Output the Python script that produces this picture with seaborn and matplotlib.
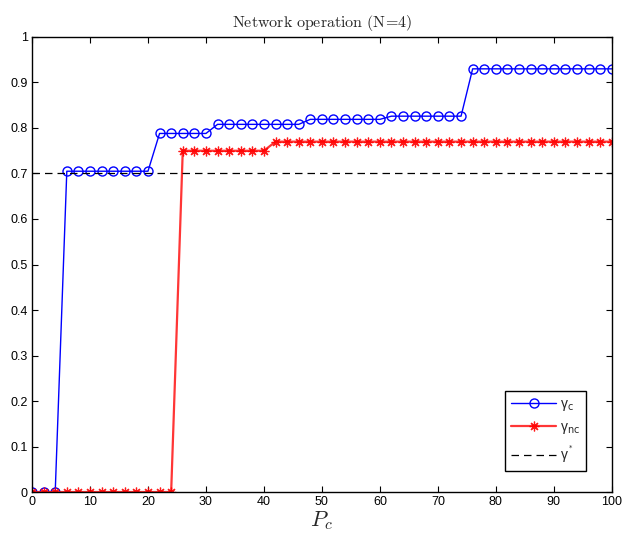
import numpy as np
import pandas as pd
import matplotlib
matplotlib.use("Agg")
import matplotlib.pyplot as plt
import seaborn as sns

# P_c sample points (step 2)
pc = list(range(0, 101, 2))

# gamma_c (cooperative) levels
gamma_c = ([0.0] * 3 + [0.705] * 8 + [0.788] * 5 + [0.808] * 8 +
           [0.819] * 7 + [0.826] * 7 + [0.930] * 13)
# gamma_nc (non-cooperative)
gamma_nc = [0.0] * 13 + [0.750] * 8 + [0.770] * 30
gamma_star = 0.7

df = pd.DataFrame({"Pc": pc, "gc": gamma_c, "gnc": gamma_nc})

sns.set_style("ticks")
plt.rcParams["font.family"] = ["Liberation Sans", "DejaVu Sans"]

fig = plt.figure(figsize=(6.23, 5.33), dpi=100)
ax = fig.add_axes([0.0514, 0.0769, 0.9306, 0.8537])

sns.lineplot(data=df, x="Pc", y="gc", ax=ax, color="blue", lw=1,
             marker="o", markersize=6.5, markerfacecolor="none",
             markeredgecolor="blue", markeredgewidth=1, label="γ$_\\mathrm{c}$")
sns.lineplot(data=df, x="Pc", y="gnc", ax=ax, color="#ff2020", lw=1.6, alpha=0.9,
             marker=(8, 2, 0), markersize=7, markeredgecolor="red",
             markeredgewidth=0.9, label="γ$_\\mathrm{nc}$")
ax.axhline(gamma_star, color="black", lw=0.9, dashes=(6, 4), label="γ$^{^*}$")

ax.set_xlim(0, 100)
ax.set_ylim(0, 1)
ax.set_xticks(range(0, 101, 10))
ax.set_yticks(np.arange(0, 1.01, 0.1))
ax.set_yticklabels(["0", "0.1", "0.2", "0.3", "0.4", "0.5", "0.6", "0.7", "0.8", "0.9", "1"])
ax.tick_params(direction="in", top=True, right=True, length=4, width=0.8,
               labelsize=9, colors="black", pad=3)
for s in ax.spines.values():
    s.set_visible(True)
    s.set_linewidth(1)
    s.set_color("black")

ax.set_ylabel("")
ax.set_xlabel(r"$P_c$", fontsize=16, math_fontfamily="cm", labelpad=1)
ax.set_title(r"$\mathrm{Network\ operation\ (N\!=\!4)}$", fontsize=11.5,
             math_fontfamily="cm", pad=7)

leg = ax.legend(loc="lower left", bbox_to_anchor=(0.816, 0.046),
                borderaxespad=0, fontsize=10, frameon=True, fancybox=False,
                edgecolor="black", framealpha=1, handlelength=3.2, borderpad=0.45,
                labelspacing=0.5, numpoints=1, handletextpad=0.3)
leg.get_frame().set_linewidth(1)
for t in leg.get_texts():
    t.set_math_fontfamily("dejavusans")

fig.savefig("out.png", dpi=100)
